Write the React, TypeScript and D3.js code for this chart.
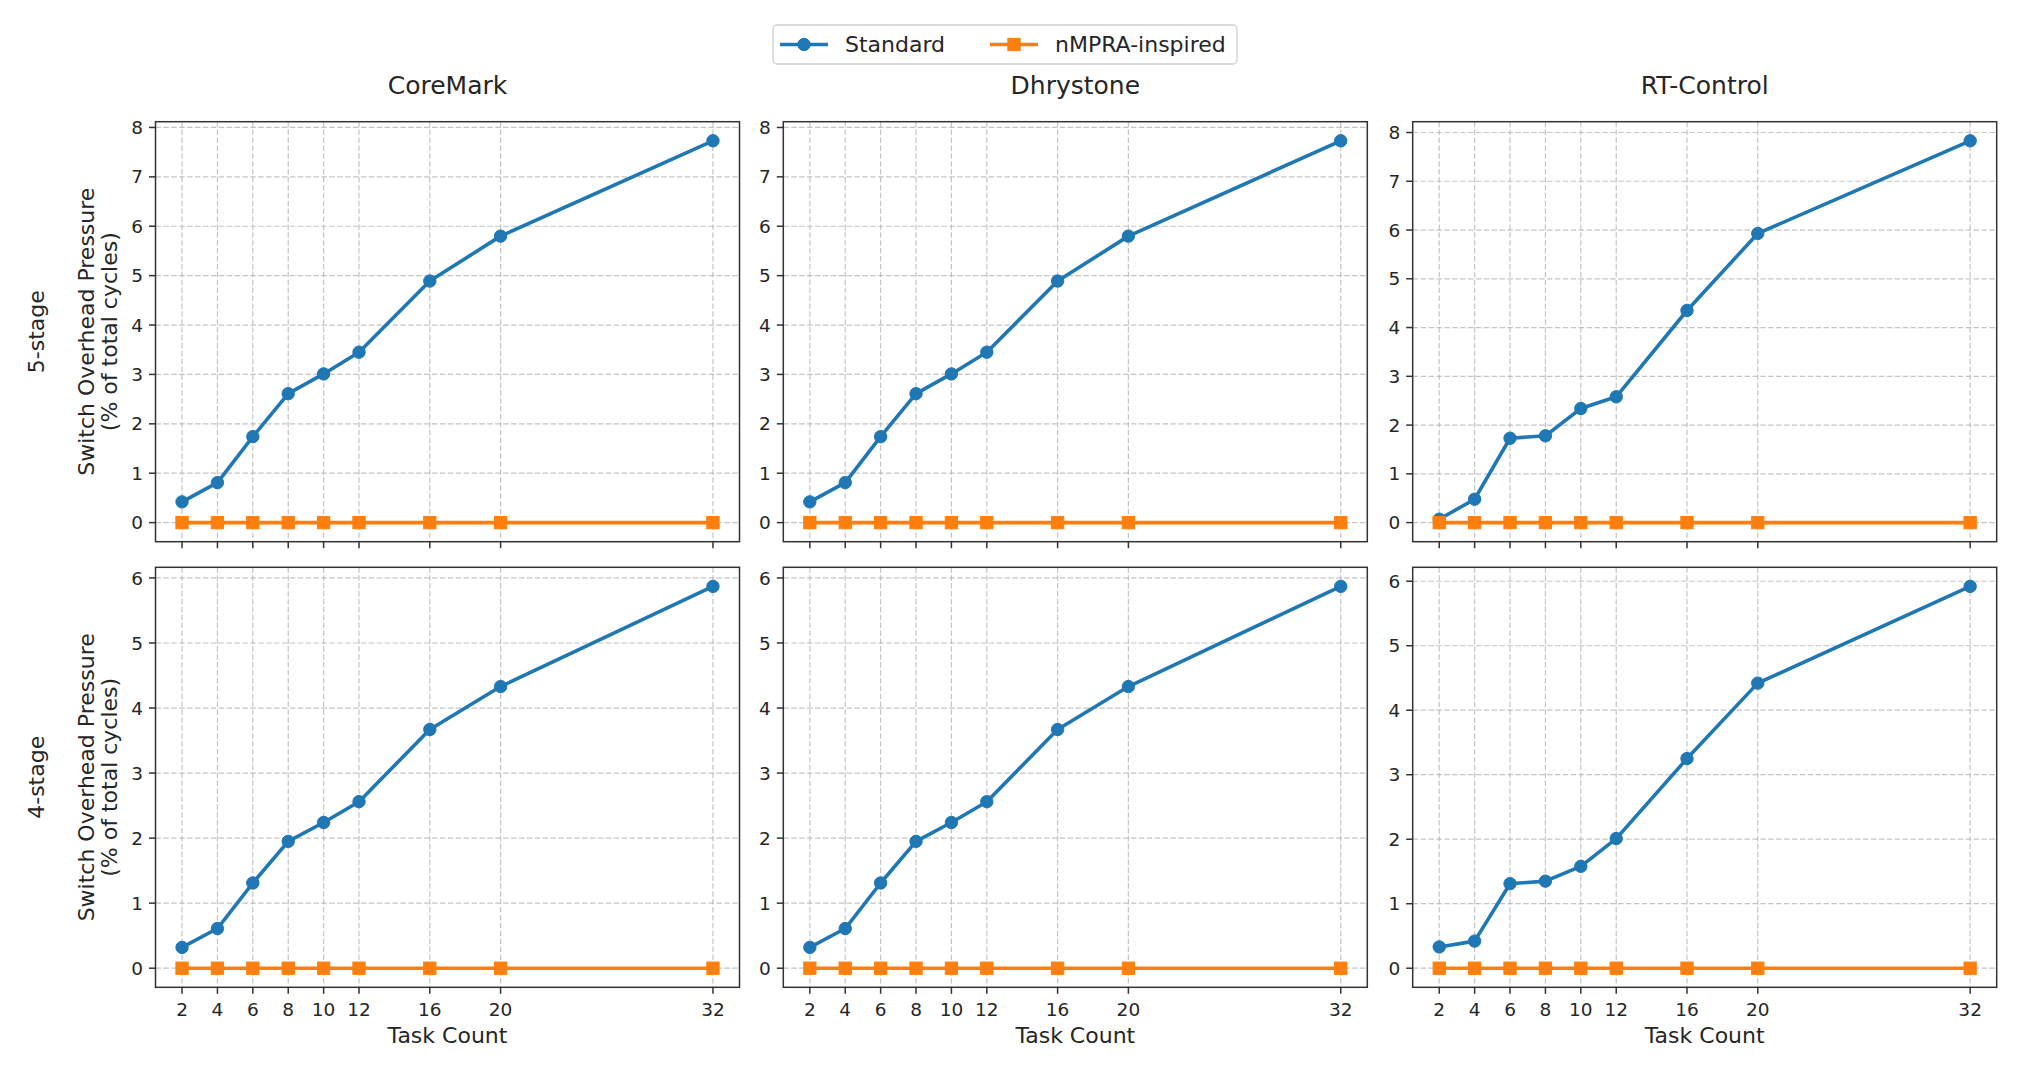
import React from "react";
import * as d3 from "d3";

// Task counts on the shared x axis
const taskCounts = [2, 4, 6, 8, 10, 12, 16, 20, 32];

// Benchmarks (columns) and pipeline depths (rows)
const benchmarks = ["CoreMark", "Dhrystone", "RT-Control"];
const pipelines = ["5-stage", "4-stage"];
const seriesNames = ["Standard", "nMPRA-inspired"];

// Switch overhead pressure (% of total cycles), Standard scheduler
const coremark5Standard = [0.42, 0.81, 1.74, 2.61, 3.01, 3.45, 4.89, 5.8, 7.73];
const dhrystone5Standard = [0.42, 0.81, 1.74, 2.61, 3.01, 3.45, 4.89, 5.8, 7.73];
const rtcontrol5Standard = [0.07, 0.48, 1.73, 1.78, 2.34, 2.58, 4.35, 5.93, 7.83];
const coremark4Standard = [0.32, 0.61, 1.31, 1.95, 2.24, 2.56, 3.67, 4.33, 5.87];
const dhrystone4Standard = [0.32, 0.61, 1.31, 1.95, 2.24, 2.56, 3.67, 4.33, 5.87];
const rtcontrol4Standard = [0.33, 0.42, 1.31, 1.35, 1.58, 2.01, 3.25, 4.42, 5.92];

// nMPRA-inspired scheduler: no switch overhead
const coremark5Nmpra = [0, 0, 0, 0, 0, 0, 0, 0, 0];
const dhrystone5Nmpra = [0, 0, 0, 0, 0, 0, 0, 0, 0];
const rtcontrol5Nmpra = [0, 0, 0, 0, 0, 0, 0, 0, 0];
const coremark4Nmpra = [0, 0, 0, 0, 0, 0, 0, 0, 0];
const dhrystone4Nmpra = [0, 0, 0, 0, 0, 0, 0, 0, 0];
const rtcontrol4Nmpra = [0, 0, 0, 0, 0, 0, 0, 0, 0];

// Y tick values per row
const yTicksTop = [0, 1, 2, 3, 4, 5, 6, 7, 8];
const yTicksBottom = [0, 1, 2, 3, 4, 5, 6];

const panelData = [
  [
    [coremark5Standard, coremark5Nmpra],
    [dhrystone5Standard, dhrystone5Nmpra],
    [rtcontrol5Standard, rtcontrol5Nmpra],
  ],
  [
    [coremark4Standard, coremark4Nmpra],
    [dhrystone4Standard, dhrystone4Nmpra],
    [rtcontrol4Standard, rtcontrol4Nmpra],
  ],
];
const rowTicks = [yTicksTop, yTicksBottom];

// Layout
const W = 2019;
const H = 1068;
const colLeft = [155.5, 783.3, 1412.7];
const rowTop = [121.7, 567.3];
const plotW = 584;
const plotH = 420;
const FONT = "DejaVu Sans, sans-serif";
const COLORS = ["#1f77b4", "#ff7f0e"];
const TEXT = "#262626";
const SPINE = "#333333";
const TICK_LEN = 6.5;

function Marker({ kind, x, y, color }: { kind: number; x: number; y: number; color: string }) {
  if (kind === 0) return <circle cx={x} cy={y} r={6.2} fill={color} stroke={color} strokeWidth={1} />;
  const s = 12.3;
  return <rect x={x - s / 2} y={y - s / 2} width={s} height={s} fill={color} stroke={color} strokeWidth={1} />;
}

function Panel({ row, col }: { row: number; col: number }) {
  const left = colLeft[col];
  const top = rowTop[row];
  const series = panelData[row][col];
  const all = series.flat();
  const lo = d3.min(all) as number;
  const hi = d3.max(all) as number;
  const padY = (hi - lo) * 0.05;
  const xMin = d3.min(taskCounts) as number;
  const xMax = d3.max(taskCounts) as number;
  const padX = (xMax - xMin) * 0.05;

  const x = d3.scaleLinear().domain([xMin - padX, xMax + padX]).range([0, plotW]);
  const y = d3.scaleLinear().domain([lo - padY, hi + padY]).range([plotH, 0]);
  const line = d3
    .line<number>()
    .x((_, i) => x(taskCounts[i]))
    .y((d) => y(d));
  const yTicks = rowTicks[row];
  const isBottom = row === pipelines.length - 1;

  return (
    <g transform={`translate(${left},${top})`}>
      {/* grid */}
      <g stroke="#b0b0b0" strokeOpacity={0.75} strokeWidth={1.2} strokeDasharray="5.5,2.4">
        {taskCounts.map((t) => (
          <line key={`gx${t}`} x1={x(t)} x2={x(t)} y1={0} y2={plotH} />
        ))}
        {yTicks.map((t) => (
          <line key={`gy${t}`} x1={0} x2={plotW} y1={y(t)} y2={y(t)} />
        ))}
      </g>
      {/* series */}
      {series.map((vals, si) => (
        <g key={si}>
          <path d={line(vals) || ""} fill="none" stroke={COLORS[si]} strokeWidth={3.6} strokeLinejoin="round" />
          {vals.map((v, i) => (
            <Marker key={i} kind={si} x={x(taskCounts[i])} y={y(v)} color={COLORS[si]} />
          ))}
        </g>
      ))}
      {/* frame */}
      <rect x={0} y={0} width={plotW} height={plotH} fill="none" stroke={SPINE} strokeWidth={1.5} />
      {/* y ticks */}
      {yTicks.map((t) => (
        <g key={`yt${t}`}>
          <line x1={-TICK_LEN} x2={0} y1={y(t)} y2={y(t)} stroke={SPINE} strokeWidth={1.5} />
          <text x={-12.5} y={y(t)} dy="0.36em" textAnchor="end" fontFamily={FONT} fontSize={18.5} fill={TEXT}>
            {t}
          </text>
        </g>
      ))}
      {/* x ticks */}
      {taskCounts.map((t) => (
        <g key={`xt${t}`}>
          <line x1={x(t)} x2={x(t)} y1={plotH} y2={plotH + TICK_LEN} stroke={SPINE} strokeWidth={1.5} />
          {isBottom && (
            <text x={x(t)} y={plotH + 28.5} textAnchor="middle" fontFamily={FONT} fontSize={18.5} fill={TEXT}>
              {t}
            </text>
          )}
        </g>
      ))}
      {isBottom && (
        <text x={plotW / 2} y={plotH + 56} textAnchor="middle" fontFamily={FONT} fontSize={22} fill={TEXT}>
          Task Count
        </text>
      )}
      {row === 0 && (
        <text x={plotW / 2} y={-28} textAnchor="middle" fontFamily={FONT} fontSize={25} fill={TEXT}>
          {benchmarks[col]}
        </text>
      )}
      {col === 0 && (
        <g>
          <text
            transform={`translate(${94 - left},${plotH / 2}) rotate(-90)`}
            textAnchor="middle"
            fontFamily={FONT}
            fontSize={22}
            fill={TEXT}
          >
            Switch Overhead Pressure
          </text>
          <text
            transform={`translate(${117 - left},${plotH / 2}) rotate(-90)`}
            textAnchor="middle"
            fontFamily={FONT}
            fontSize={22}
            fill={TEXT}
          >
            (% of total cycles)
          </text>
          <text
            transform={`translate(${44 - left},${plotH / 2}) rotate(-90)`}
            textAnchor="middle"
            fontFamily={FONT}
            fontSize={22}
            fill={TEXT}
          >
            {pipelines[row]}
          </text>
        </g>
      )}
    </g>
  );
}

function Legend() {
  const boxX = 773;
  const boxY = 25;
  const boxW = 464;
  const boxH = 39;
  const midY = boxY + boxH / 2;
  const entries = [
    { lineX: 780, textX: 845 },
    { lineX: 990, textX: 1055 },
  ];
  return (
    <g>
      <rect x={boxX} y={boxY} width={boxW} height={boxH} rx={4} fill="#ffffff" fillOpacity={0.8} stroke="#d0d0d0" strokeWidth={1.3} />
      {entries.map((e, i) => (
        <g key={i}>
          <line x1={e.lineX} x2={e.lineX + 48} y1={midY} y2={midY} stroke={COLORS[i]} strokeWidth={3.6} />
          <Marker kind={i} x={e.lineX + 24} y={midY} color={COLORS[i]} />
          <text x={e.textX} y={midY + 7.8} fontFamily={FONT} fontSize={22} fill={TEXT}>
            {seriesNames[i]}
          </text>
        </g>
      ))}
    </g>
  );
}

export default function App() {
  return (
    <svg
      width={W}
      height={H}
      viewBox={`0 0 ${W} ${H}`}
      style={{ position: "absolute", left: 0, top: 0, display: "block", background: "#ffffff" }}
    >
      <rect width={W} height={H} fill="#ffffff" />
      {pipelines.map((_, r) => benchmarks.map((_, c) => <Panel key={`${r}-${c}`} row={r} col={c} />))}
      <Legend />
    </svg>
  );
}
